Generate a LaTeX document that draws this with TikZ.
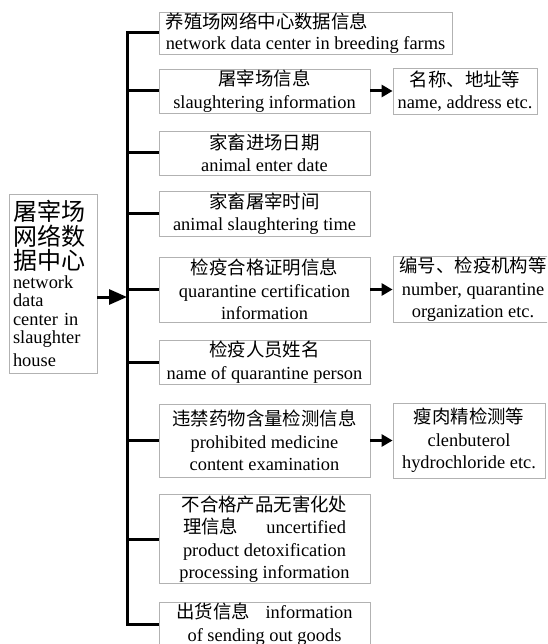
\documentclass[tikz,border=0pt]{standalone}
\usepackage{fontspec}
\setmainfont{Liberation Serif}
\newfontfamily\cjk{Noto Sans CJK SC}
\newcommand{\zh}[1]{{\cjk #1}}
\usetikzlibrary{arrows.meta}
\begin{document}
\begin{tikzpicture}[x=1pt,y=-1pt,
    box/.style={draw=gray!60,line width=0.8pt,inner sep=1pt,align=center,font=\fontsize{18.4}{22.5}\selectfont},
    bus/.style={line width=3pt},
    arr/.style={line width=3pt,-{Triangle[length=11pt,width=12pt]}}]
    \useasboundingbox (0,0) rectangle (547,644);
    \clip (0,0) rectangle (547,644);

    \node[box,minimum width=88,minimum height=179,text width=80,align=left,inner sep=4pt] (hub) at (53,283.5) {{\fontsize{24}{24.5}\selectfont\zh{屠宰场\\网络数\\据中心}\par}\fontsize{18.4}{18.5}\selectfont network\\data\\center in\\slaughter\\house};

    \node[box,minimum width=293,minimum height=42,align=left,font=\fontsize{18.4}{20.5}\selectfont] (box1) at (305.5,33) {\zh{养殖场网络中心数据信息}\\network data center in breeding farms};
    \node[box,minimum width=211,minimum height=44] (box2) at (264.5,91) {\zh{屠宰场信息}\\slaughtering information};
    \node[box,minimum width=211,minimum height=44] (box3) at (264.5,153) {\zh{家畜进场日期}\\animal enter date};
    \node[box,minimum width=211,minimum height=45] (box4) at (264.5,213.5) {\zh{家畜屠宰时间}\\animal slaughtering time};
    \node[box,minimum width=211,minimum height=65] (box5) at (264.5,289.5) {\zh{检疫合格证明信息}\\quarantine certification\\information};
    \node[box,minimum width=211,minimum height=42] (box6) at (264.5,362) {\zh{检疫人员姓名}\\name of quarantine person};
    \node[box,minimum width=211,minimum height=73] (box7) at (264.5,440.5) {\zh{违禁药物含量检测信息}\\prohibited medicine\\content examination};
    \node[box,minimum width=211,minimum height=86] (box8) at (264.5,539) {\zh{不合格产品无害化处}\\\hbox to 163pt{\zh{理信息}\hfill uncertified}\\product detoxification\\processing information};
    \node[box,minimum width=211,minimum height=44] (box9) at (264.5,624) {\hbox to 176pt{\zh{出货信息}\hfill information}\\of sending out goods};

    \node[box,minimum width=144,minimum height=46] (r2) at (465,91) {\zh{名称、地址等}\\name, address etc.};
    \node[box,minimum width=160,minimum height=65] (r5) at (473,289.5) {\zh{编号、检疫机构等}\\number, quarantine\\organization etc.};
    \node[box,minimum width=152,minimum height=75] (r7) at (469,440.5) {\zh{瘦肉精检测等}\\clenbuterol\\hydrochloride etc.};

    \coordinate (busend) at (127,624);
    \coordinate (hubout) at ([yshift=-13.5pt]hub.east);

    \draw[bus] (box1.west) -| (busend) -- (box9.west);
    \foreach \b in {box2,box3,box4,box5,box6,box7,box8} \draw[bus] (\b.west) -- (\b.west -| busend);

    \draw[arr,-{Triangle[length=18pt,width=15pt]}] (hubout) -- (hubout -| busend);
    \draw[arr] (box2) to (r2); \draw[arr] (box5) to (r5); \draw[arr] (box7) to (r7);
\end{tikzpicture}
\end{document}
